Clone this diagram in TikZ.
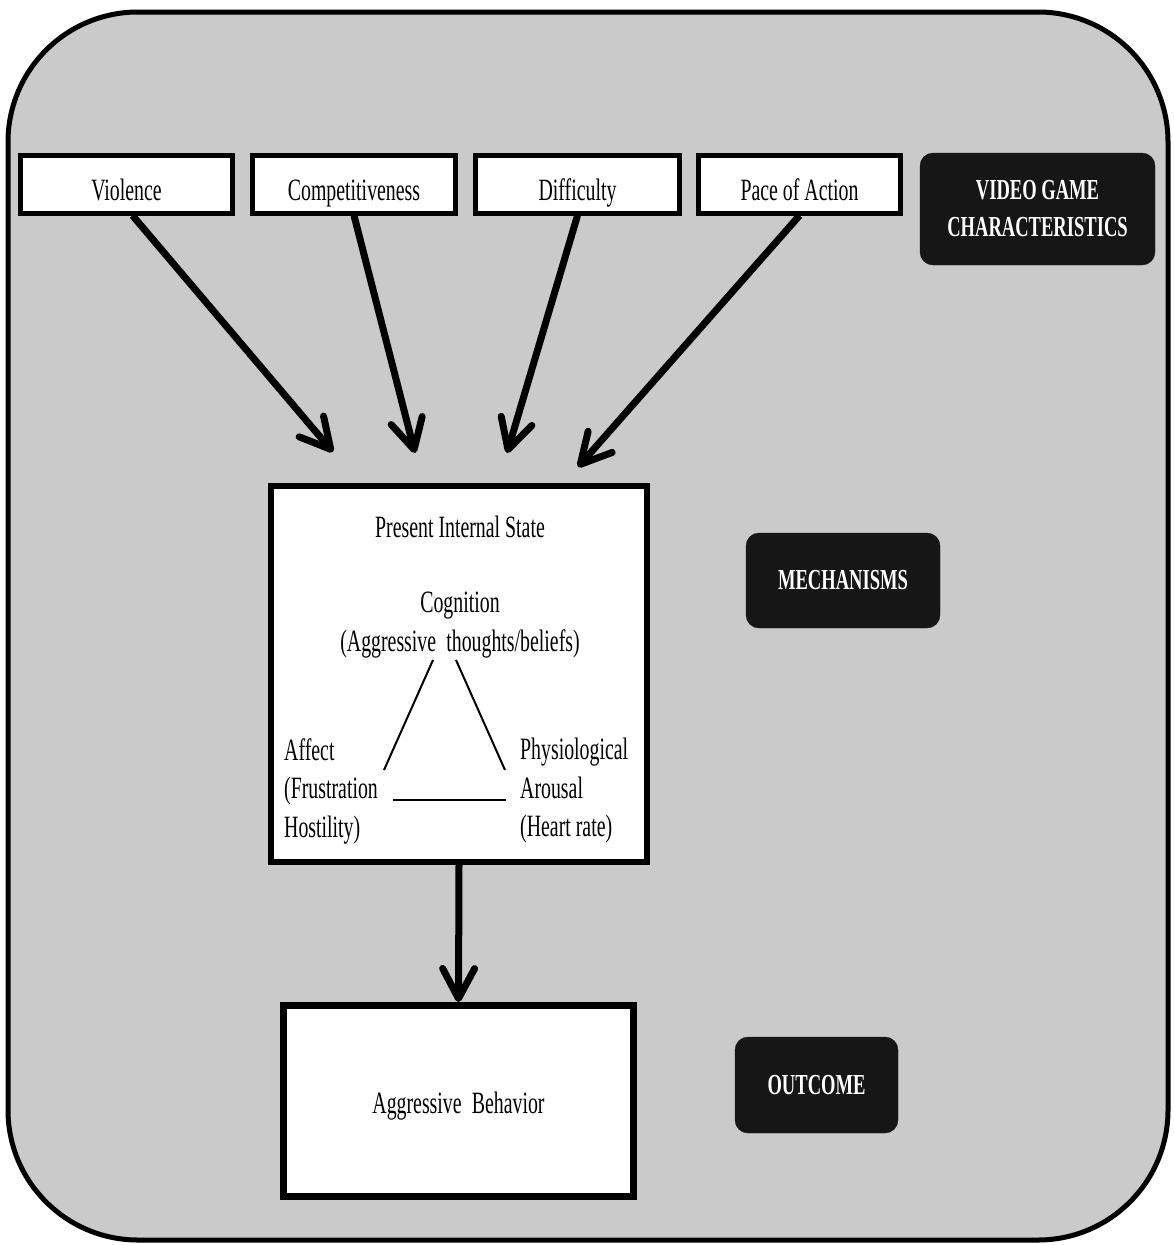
\documentclass[tikz,border=0pt]{standalone}
\usepackage{fontspec}
\setmainfont{Liberation Serif}[FakeStretch=0.64]
\usetikzlibrary{arrows.meta}
\definecolor{bggray}{RGB}{202,202,202}
\definecolor{darkbox}{RGB}{22,22,22}
\begin{document}
\begin{tikzpicture}[x=1pt,y=-1pt,
  txt/.style={font=\fontsize{31}{38.5}\selectfont, inner sep=0pt},
  charbox/.style={draw=black, line width=5pt, fill=white, minimum height=58pt, inner sep=0pt, text height=32pt, text depth=0pt, font=\fontsize{31}{38}\selectfont},
  labelbox/.style={draw=darkbox, fill=darkbox, rounded corners=13pt, inner sep=0pt, text=white, align=center, font=\fontsize{29}{37}\selectfont\bfseries},
  bigbox/.style={draw=black, fill=white, inner sep=0pt},
  bigarrow/.style={line width=7pt, -{Straight Barb[length=30pt, width=32pt, round]}},
  thinline/.style={line width=2pt}
]
\useasboundingbox (0,0) rectangle (1173,1245);
\fill[white] (0,0) rectangle (1173,1245);
% outer frame
\draw[line width=5pt, fill=bggray, rounded corners=130pt] (8,12) rectangle (1168,1240);

% characteristics
\node[charbox, minimum width=212pt] (vio) at (126.5,184) {Violence};
\node[charbox, minimum width=203pt] (comp) at (354,184) {Competitiveness};
\node[charbox, minimum width=204pt] (diff) at (577.5,184) {Difficulty};
\node[charbox, minimum width=202pt] (pace) at (799.5,184) {Pace of Action};

% dark labels
\node[labelbox, minimum width=235pt, minimum height=112pt] (vgc) at (1037.5,209) {VIDEO GAME\\CHARACTERISTICS};
\node[labelbox, minimum width=194pt, minimum height=95pt] (mech) at (843,580.5) {MECHANISMS};
\node[labelbox, minimum width=163pt, minimum height=96pt] (outc) at (816.5,1085) {OUTCOME};

% internal state box
\node[bigbox, line width=6pt, minimum width=376pt, minimum height=376pt] (state) at (459,674) {};
\node[txt, anchor=base] (pis) at (460,537) {Present Internal State};
\node[txt, align=center, anchor=base] (cog) at (460,651) {Cognition\\(Aggressive\, thoughts/beliefs)};
\node[txt, align=left, anchor=west] (aff) at (284,791) {Affect\\(Frustration\\Hostility)};
\node[txt, align=left, anchor=west] (phy) at (520,791) {Physiological\\Arousal\\(Heart rate)};

\coordinate (cl1) at (433,660);
\coordinate (cl2) at (384,770);
\coordinate (cr1) at (456,660);
\coordinate (cr2) at (505,770);
\coordinate (h1) at (393,800);
\coordinate (h2) at (506,800);
\draw[thinline] (cl1) -- (cl2);
\draw[thinline] (cr1) -- (cr2);
\draw[thinline] (h1) -- (h2);

% outcome box
\node[bigbox, line width=7pt, minimum width=350pt, minimum height=191pt, text height=24pt, text depth=0pt, font=\fontsize{31}{38}\selectfont] (ab) at (458.5,1101) {Aggressive\, Behavior};

% arrow tips
\coordinate (t1) at (333,452);
\coordinate (t2) at (415,453);
\coordinate (t3) at (507,453);
\coordinate (t4) at (578,467);

\draw[bigarrow] ([xshift=6pt]vio.south) -- (t1);
\draw[bigarrow] (comp.south) -- (t2);
\draw[bigarrow] (diff.south) -- (t3);
\draw[bigarrow] (pace.south) -- (t4);
\draw[bigarrow] (state.south) -- (ab.north);
\end{tikzpicture}
\end{document}
